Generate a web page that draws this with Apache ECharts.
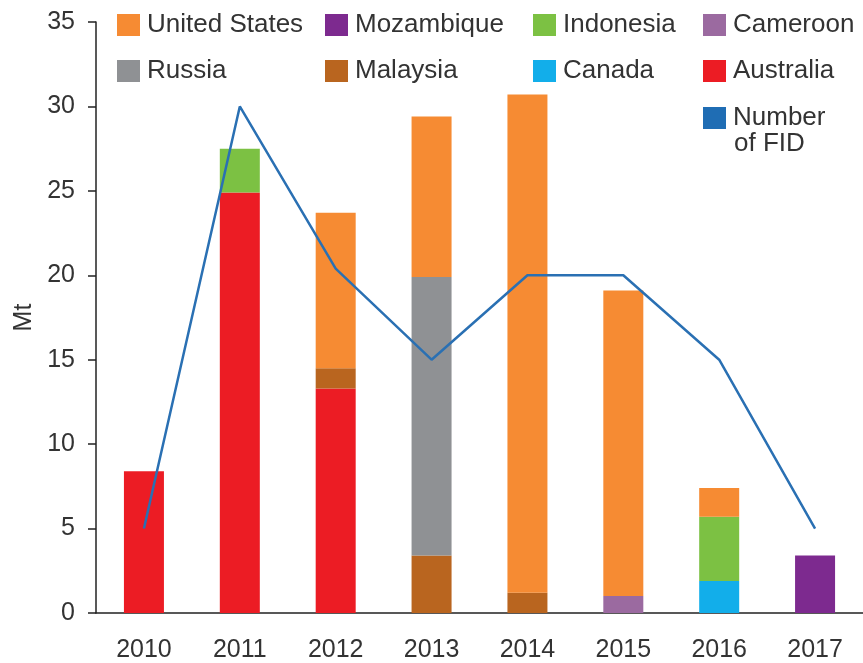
<!DOCTYPE html>
<html>
<head>
<meta charset="utf-8">
<script src="https://cdn.jsdelivr.net/npm/echarts@6/dist/echarts.min.js"></script>
<style>
  html, body { margin: 0; padding: 0; background: #fff; }
  #chart { width: 863px; height: 663px; }
</style>
</head>
<body>
<div id="chart"></div>
<script>
// years on the x axis
const years = ['2010', '2011', '2012', '2013', '2014', '2015', '2016', '2017'];

// capacity in Mt, per country (stacked from the bottom up)
const australia  = [8.4, 24.9, 13.3, 0, 0, 0, 0, 0];
const malaysia   = [0, 0, 1.2, 3.4, 1.2, 0, 0, 0];
const russia     = [0, 0, 0, 16.5, 0, 0, 0, 0];
const cameroon   = [0, 0, 0, 0, 0, 1.0, 0, 0];
const canada     = [0, 0, 0, 0, 0, 0, 1.9, 0];
const indonesia  = [0, 2.6, 0, 0, 0, 0, 3.8, 0];
const mozambique = [0, 0, 0, 0, 0, 0, 0, 3.4];
const usa        = [0, 0, 9.2, 9.5, 29.5, 18.1, 1.7, 0];

// number of FID line, drawn on the same scale
const fid = [5, 30, 20.4, 15, 20, 20, 15, 5];

const yTicks = { min: 0, max: 35, step: 5 };

const chart = echarts.init(document.getElementById('chart'));
const font = '"Liberation Sans", Arial, sans-serif';
const txt = '#333';

function bar(name, data, color) {
  return {
    name: name, type: 'bar', stack: 'mt', data: data,
    barWidth: 40, itemStyle: { color: color },
    emphasis: { disabled: true }
  };
}

// one legend box per item so the four columns line up like the original
function leg(name, left, top) {
  return {
    data: [name], left: left, top: top, padding: 0,
    icon: 'rect', itemWidth: 23, itemHeight: 22, itemGap: 0,
    textStyle: { fontSize: 26, color: txt, fontFamily: font, padding: [0, 0, 0, 2] },
    formatter: function (n) { return n === 'Number of FID' ? 'Number' : n; }
  };
}

const option = {
  animation: false,
  grid: { left: 96, top: 22, width: 768, bottom: 50 },
  legend: [
    leg('United States', 117, 12), leg('Mozambique', 325, 12), leg('Indonesia', 533, 12), leg('Cameroon', 703, 12),
    leg('Russia', 117, 58), leg('Malaysia', 325, 58), leg('Canada', 533, 58), leg('Australia', 703, 58),
    leg('Number of FID', 703, 105)
  ],
  graphic: [{
    type: 'text', left: 734, top: 131,
    style: { text: 'of FID', fontSize: 26, fill: txt, fontFamily: font }
  }],
  xAxis: {
    type: 'category', data: years,
    axisLine: { lineStyle: { color: '#222', width: 1.5 } },
    axisTick: { length: 8, lineStyle: { color: '#222', width: 1.5 } },
    axisLabel: { fontSize: 25, color: txt, fontFamily: font, margin: 25 }
  },
  yAxis: {
    type: 'value', min: yTicks.min, max: yTicks.max, interval: yTicks.step,
    name: 'Mt', nameLocation: 'middle', nameGap: 58, nameRotate: 90,
    nameTextStyle: { fontSize: 25, color: txt, fontFamily: font },
    splitLine: { show: false },
    axisLine: { show: true, lineStyle: { color: '#222', width: 1.5 } },
    axisTick: { show: true, length: 8, lineStyle: { color: '#222', width: 1.5 } },
    axisLabel: { fontSize: 25, color: txt, fontFamily: font, margin: 21 }
  },
  series: [
    bar('Australia', australia, '#ec1c24'),
    bar('Malaysia', malaysia, '#b9651f'),
    bar('Russia', russia, '#8f9194'),
    bar('Cameroon', cameroon, '#9b6aa0'),
    bar('Canada', canada, '#12aeea'),
    bar('Indonesia', indonesia, '#7cc143'),
    bar('Mozambique', mozambique, '#7d2a8f'),
    bar('United States', usa, '#f68b33'),
    {
      name: 'Number of FID', type: 'line', data: fid, z: 5,
      symbol: 'none', itemStyle: { color: '#1f6db4' },
      lineStyle: { color: '#2a70b3', width: 2.5 },
      emphasis: { disabled: true }
    }
  ]
};

chart.setOption(option);
</script>
</body>
</html>
